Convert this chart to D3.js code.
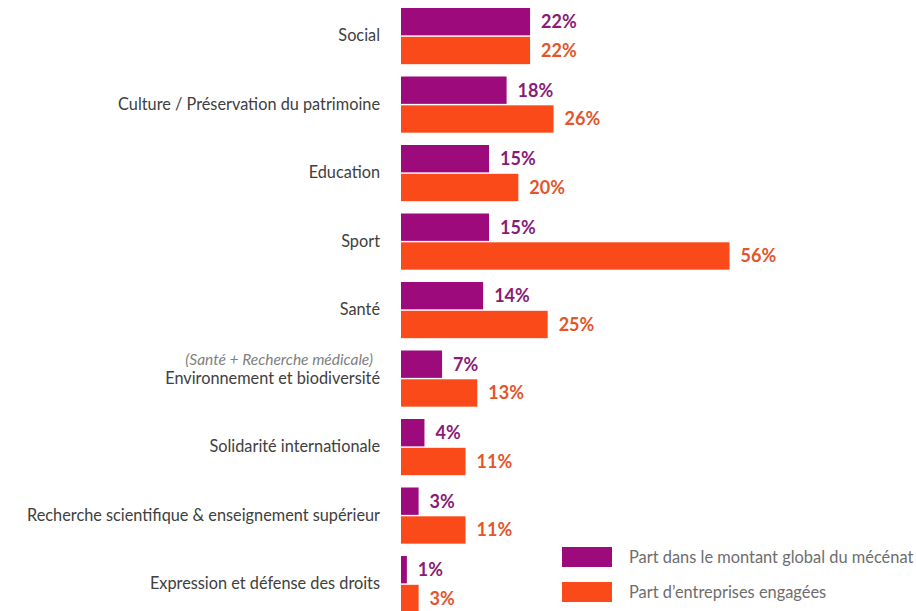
<!DOCTYPE html>
<html>
<head>
<meta charset="utf-8">
<script src="https://cdn.jsdelivr.net/npm/d3@7"></script>
<style>
  body { margin: 0; background: #fff; }
  svg { display: block; font-family: Lato, "Open Sans", sans-serif; }
</style>
</head>
<body>
<div id="chart"></div>
<script>
// categories, top to bottom
const categories = [
  "Social",
  "Culture / Préservation du patrimoine",
  "Education",
  "Sport",
  "Santé",
  "Environnement et biodiversité",
  "Solidarité internationale",
  "Recherche scientifique & enseignement supérieur",
  "Expression et défense des droits"
];
// share of the global amount (purple)
const montant = [22, 18, 15, 15, 14, 7, 4, 3, 1];
// share of companies involved (orange)
const entreprises = [22, 26, 20, 56, 25, 13, 11, 11, 3];
const seriesNames = ["Part dans le montant global du mécénat", "Part d\u2019entreprises engagées"];
const santeNote = "(Santé + Recherche médicale)";

const width = 916, height = 611;
const barColors = ["#9c0a7c", "#fb4a19"];
const labelColors = ["#8a1b76", "#e4552b"];

const svg = d3.select("#chart").append("svg")
  .attr("width", width)
  .attr("height", height);

let x = d3.scaleLinear().domain([0, 60]).range([401, 753]);

// row pitch 68.5px
const step = 68.5, pad = 0.18;
let y = d3.scaleBand()
  .domain(categories)
  .range([8, 8 + step * (categories.length - pad)])
  .paddingInner(pad)
  .paddingOuter(0);

const sub = d3.scaleBand().domain([0, 1]).range([0, y.bandwidth()]).paddingInner(0.05);

const rows = categories.map((c, i) => ({ cat: c, vals: [montant[i], entreprises[i]] }));

const groups = svg.selectAll("g.row")
  .data(rows)
  .enter()
  .append("g")
  .attr("class", "row")
  .attr("transform", d => `translate(0,${y(d.cat)})`);

groups.selectAll("rect")
  .data(d => d.vals.map((v, k) => ({ v, k })))
  .enter()
  .append("rect")
  .attr("x", x(0))
  .attr("y", d => sub(d.k))
  .attr("width", d => x(d.v) - x(0))
  .attr("height", sub.bandwidth())
  .attr("fill", d => barColors[d.k]);

groups.selectAll("text.val")
  .data(d => d.vals.map((v, k) => ({ v, k })))
  .enter()
  .append("text")
  .attr("class", "val")
  .attr("x", d => x(d.v) + 11)
  .attr("y", d => sub(d.k) + sub.bandwidth() / 2)
  .attr("dy", "0.36em")
  .attr("fill", d => labelColors[d.k])
  .style("font-size", "18px")
  .style("font-weight", "bold")
  .text(d => d.v + "%");

// category labels
let yAxis = d3.axisLeft(y).tickSize(0).tickPadding(0);
const ax = svg.append("g")
  .attr("transform", "translate(380,0)")
  .call(yAxis);
ax.select(".domain").remove();
ax.selectAll("text")
  .attr("fill", "#404040")
  .style("font-size", "16.3px")
  .style("font-family", "Lato, 'Open Sans', sans-serif");

// italic note above Environnement label
svg.append("text")
  .attr("x", 373)
  .attr("y", y("Environnement et biodiversité") + y.bandwidth() / 2 - 19)
  .attr("dy", "0.36em")
  .attr("text-anchor", "end")
  .attr("fill", "#7f7f7f")
  .style("font-size", "15.5px")
  .style("font-style", "italic")
  .text(santeNote);

// legend
const legend = svg.append("g").attr("transform", "translate(562,547)");
seriesNames.forEach((name, k) => {
  legend.append("rect")
    .attr("x", 0)
    .attr("y", k * 35)
    .attr("width", 50)
    .attr("height", 20)
    .attr("fill", barColors[k]);
  legend.append("text")
    .attr("x", 67)
    .attr("y", k * 35 + 10)
    .attr("dy", "0.36em")
    .attr("fill", "#6d6d6d")
    .style("font-size", "16.4px")
    .text(name);
});
</script>
</body>
</html>
